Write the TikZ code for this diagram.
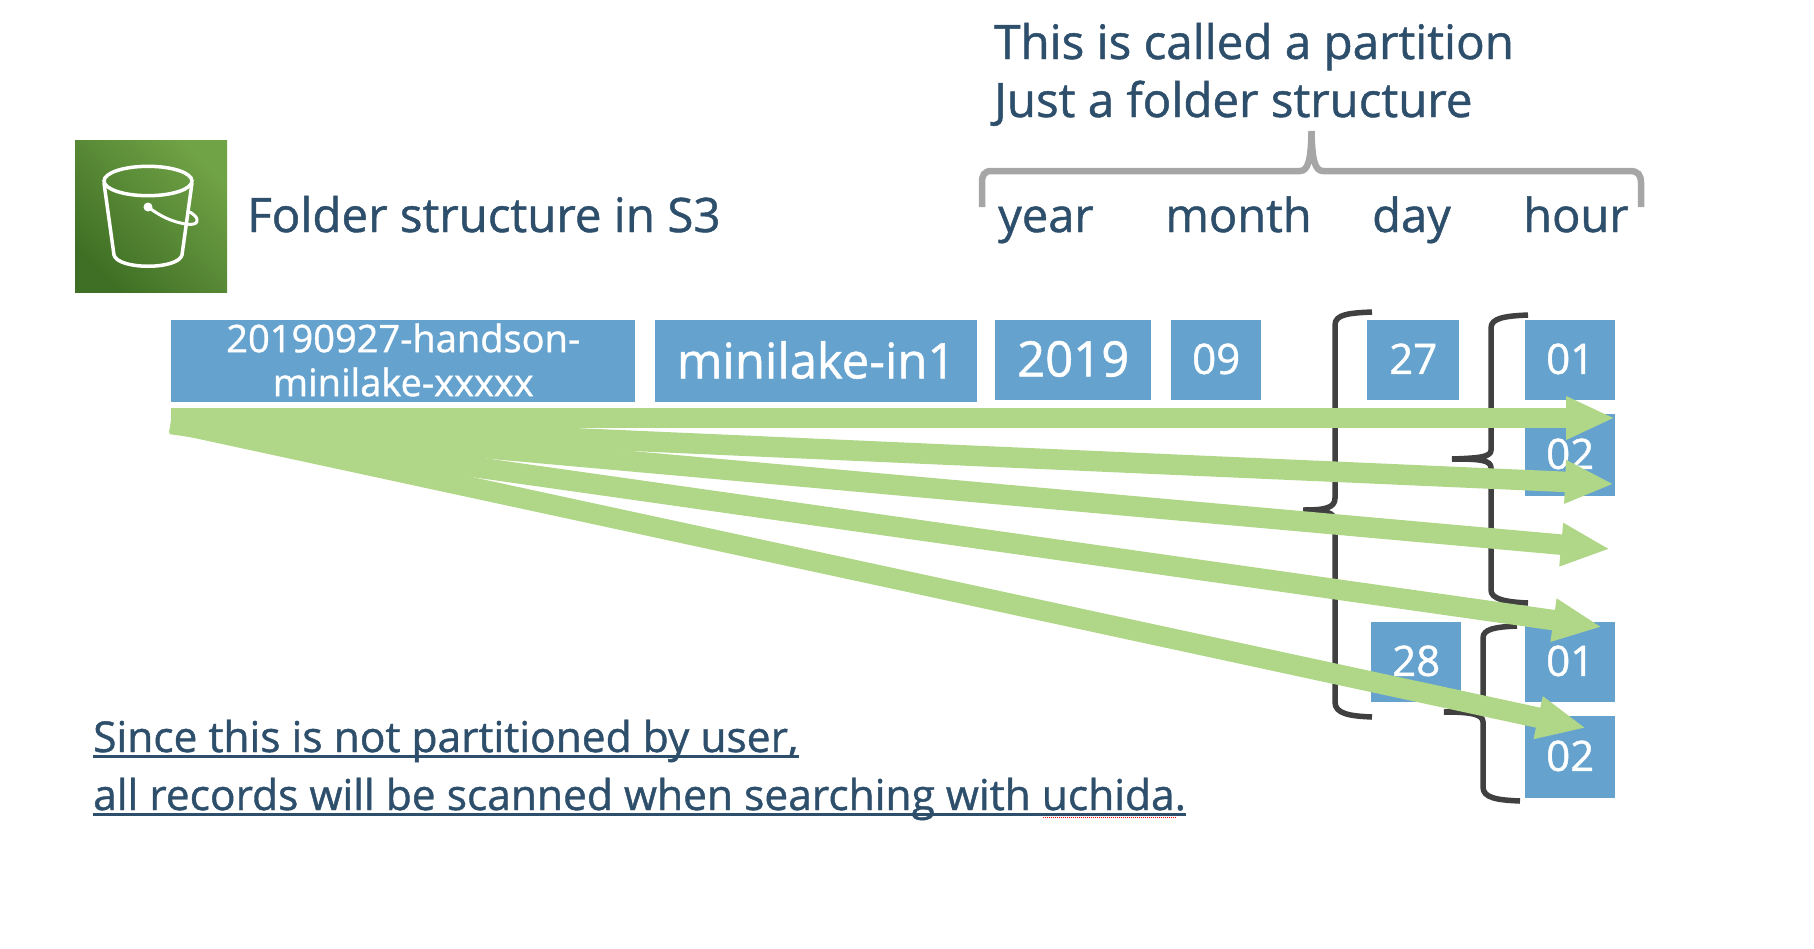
\documentclass[tikz,border=0pt]{standalone}
\usepackage{fontspec}
\setmainfont[FakeBold=1]{Open Sans}
\usetikzlibrary{arrows.meta}
\definecolor{boxblue}{HTML}{65A3CE}
\definecolor{inkblue}{HTML}{2E4F6B}
\definecolor{flowgreen}{HTML}{B0D687}
\definecolor{bracketgray}{HTML}{404040}
\definecolor{bracelight}{HTML}{A6A6A6}
\definecolor{icondark}{HTML}{3F6F24}
\definecolor{iconlight}{HTML}{70A246}
\begin{document}
\begin{tikzpicture}[x=1pt,y=-1pt,
        label/.style={anchor=base west,inner sep=0pt,text=inkblue,font=\fontsize{47.5}{47.5}\selectfont},
        cell/.style={anchor=north west,fill=boxblue,text=white,inner sep=0pt,align=center,text depth=3pt,font=\fontsize{42}{42}\selectfont},
        flow/.style={draw=flowgreen,line width=20.5pt,-{Triangle[length=49pt,width=40pt]}},
        bracket/.style={draw=bracketgray,line width=5.5pt},
        topbrace/.style={draw=bracelight,line width=6.5pt},
        uline/.style={draw=inkblue,line width=2.8pt}]
\useasboundingbox (0,0) rectangle (1814,948);

% bucket icon
\node[anchor=north west,minimum size=152pt,inner sep=0pt,
    bottom color=icondark,top color=iconlight,shading angle=-45] (icon) at (75,140) {};
\draw[white,line width=3.5pt] (148,181) ellipse (44 and 14.7);
\draw[white,line width=3.5pt,line join=round] (104,183) -- (114,255) .. controls (118,270) and (178,270) .. (182,255) -- (192,183);
\draw[white,line width=3pt] (148,207) .. controls (160,216) and (172,222) .. (186,224) .. controls (198,226) and (200,220) .. (194,215) .. controls (192,213) and (190,212) .. (189,212);
\fill[white] (148,207) circle (4.5);

\node[label] (title) at (247,232) {Folder structure in S3};
\node[label] (note1) at (994,59) {This is called a partition};
\node[label] (note2) at (994,117) {Just a folder structure};
\node[label,font=\fontsize{47}{47}\selectfont] (year) at (998,232) {year};
\node[label,font=\fontsize{47}{47}\selectfont] (month) at (1165,232) {month};
\node[label,font=\fontsize{47}{47}\selectfont] (day) at (1372,232) {day};
\node[label,font=\fontsize{47}{47}\selectfont] (hour) at (1523,232) {hour};

% the cells of the path
\node[cell,minimum width=464pt,minimum height=82pt,font=\fontsize{38}{44}\selectfont] (bucket) at (171,320) {20190927-handson-\\minilake-xxxxx};
\node[cell,minimum width=322pt,minimum height=82pt,font=\fontsize{49}{49}\selectfont] (prefix) at (655,320) {minilake-in1};
\node[cell,minimum width=156pt,minimum height=80pt,font=\fontsize{49}{49}\selectfont] (y2019) at (995,320) {2019};
\node[cell,minimum width=90pt,minimum height=80pt] (m09) at (1171,320) {09};
\node[cell,minimum width=92pt,minimum height=80pt] (d27) at (1367,320) {27};
\node[cell,minimum width=90pt,minimum height=80pt] (h01) at (1525,320) {01};
\node[cell,minimum width=90pt,minimum height=82pt] (h02) at (1525,414) {02};
\node[cell,minimum width=90pt,minimum height=80pt] (d28) at (1371,622) {28};
\node[cell,minimum width=90pt,minimum height=80pt] (h01b) at (1525,622) {01};
\node[cell,minimum width=90pt,minimum height=82pt] (h02b) at (1525,716) {02};

% braces
\draw[topbrace] (982,207) -- (982,183) .. controls (982,175) and (984,171) .. (992,171) -- (1300,171) .. controls (1308,171) and (1311,160) .. (1311.5,131)
    .. controls (1312,160) and (1315,171) .. (1323,171) -- (1630,171) .. controls (1638,171) and (1641,175) .. (1641,183) -- (1641,207);
\draw[bracket] (1372,312) .. controls (1350,313) and (1335,314) .. (1335,325) -- (1335,498) .. controls (1335,508) and (1325,510) .. (1303,510)
    .. controls (1325,510) and (1335,512) .. (1335,522) -- (1335,702) .. controls (1335,714) and (1350,716) .. (1372,717);
\draw[bracket] (1528,315) .. controls (1505,316) and (1491,318) .. (1491,328) -- (1491,450) .. controls (1491,457) and (1480,458) .. (1452,459)
    .. controls (1480,459) and (1491,460) .. (1491,468) -- (1491,590) .. controls (1491,599) and (1505,602) .. (1528,603);
\draw[bracket] (1517,626) .. controls (1495,627) and (1483,629) .. (1483,638) -- (1483,702) .. controls (1483,710) and (1470,711) .. (1444,712)
    .. controls (1470,712) and (1483,714) .. (1483,722) -- (1483,787) .. controls (1483,798) and (1497,800) .. (1520,801);

% arrows from the bucket
\coordinate (src1) at (171,418);
\coordinate (src2) at (171,420.5);
\coordinate (src3) at (171,420);
\coordinate (src4) at (171,424);
\coordinate (src5) at (171,422.5);
\coordinate (tip1) at (1615,418);
\coordinate (tip2) at (1614,484);
\coordinate (tip3) at (1610,549);
\coordinate (tip4) at (1602,627);
\coordinate (tip5) at (1586,728);
\draw[flow] (src1) -- (tip1);
\draw[flow] (src2) -- (tip2);
\draw[flow] (src3) -- (tip3);
\draw[flow] (src4) -- (tip4);
\draw[flow] (src5) -- (tip5);

% remark below
\node[label,font=\fontsize{42.5}{42.5}\selectfont] (remark1) at (93,752) {Since this is not partitioned by user,};
\node[label,font=\fontsize{42.5}{42.5}\selectfont] (remark2) at (93,810) {all records will be scanned when searching with uchida.};
\draw[uline] ([yshift=-4.5pt]remark1.base west) -- ([yshift=-4.5pt]remark1.base east);
\draw[uline] ([yshift=-4.5pt]remark2.base west) -- ([yshift=-4.5pt]remark2.base east);
\coordinate (typo1) at (1043,817);
\coordinate (typo2) at (1177,817);
\draw[red,line width=1pt,densely dotted] (typo1) -- (typo2);
\end{tikzpicture}
\end{document}
